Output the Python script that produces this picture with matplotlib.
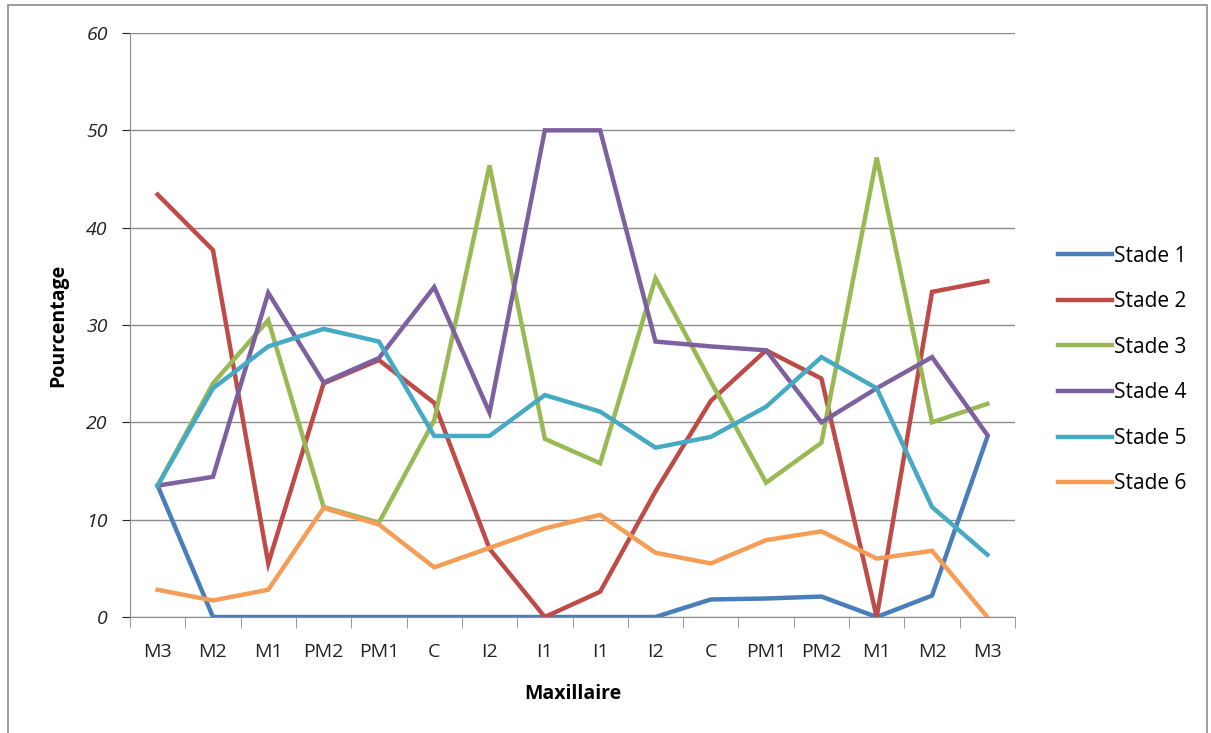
import matplotlib.pyplot as plt
from matplotlib.patches import Rectangle

# Pourcentage par stade, maxillaire
teeth = ["M3", "M2", "M1", "PM2", "PM1", "C", "I2", "I1",
         "I1", "I2", "C", "PM1", "PM2", "M1", "M2", "M3"]
stade1 = [13.5, 0, 0, 0, 0, 0, 0, 0, 0, 0, 1.8, 1.9, 2.1, 0, 2.2, 18.5]
stade2 = [43.4, 37.7, 5.5, 24.0, 26.4, 22.0, 7.0, 0, 2.6, 12.9, 22.2, 27.4, 24.5, 0, 33.4, 34.5]
stade3 = [13.5, 24.0, 30.5, 11.3, 9.7, 20.2, 46.4, 18.3, 15.8, 34.8, 24.2, 13.8, 17.9, 47.2, 20.0, 21.9]
stade4 = [13.5, 14.4, 33.3, 24.1, 26.6, 33.9, 21.0, 50, 50, 28.3, 27.8, 27.4, 20.0, 23.5, 26.7, 18.7]
stade5 = [13.5, 23.5, 27.8, 29.6, 28.3, 18.6, 18.6, 22.8, 21.1, 17.4, 18.5, 21.6, 26.7, 23.5, 11.3, 6.4]
stade6 = [2.8, 1.7, 2.8, 11.2, 9.5, 5.1, 7.1, 9.1, 10.5, 6.6, 5.5, 7.9, 8.8, 6.0, 6.8, 0]

series = [stade1, stade2, stade3, stade4, stade5, stade6]
names = ["Stade 1", "Stade 2", "Stade 3", "Stade 4", "Stade 5", "Stade 6"]
colors = ["#4A7EBB", "#BE4B48", "#98B954", "#7D60A0", "#46AAC5", "#F59D56"]

plt.rcParams['font.family'] = ['Open Sans', 'DejaVu Sans']

fig = plt.figure(figsize=(12.11, 7.33), dpi=100)
ax = fig.add_axes([130 / 1211, 1 - 617 / 733, 885 / 1211, 584 / 733])

x = list(range(len(teeth)))
for vals, name, c in zip(series, names, colors):
    ax.plot(x, vals, color=c, lw=3.2, label=name, solid_joinstyle='miter')

ax.set_xlim(-0.5, len(teeth) - 0.5)
ax.set_ylim(0, 60)
ax.set_yticks(range(0, 61, 10))
ax.set_yticklabels([str(v) for v in range(0, 61, 10)], fontstyle='italic', fontsize=14)
ax.yaxis.grid(True, color='#8c8c8c', lw=1)
ax.set_axisbelow(True)

ax.set_xticks(x)
ax.set_xticklabels(teeth, fontsize=14)
ax.tick_params(axis='x', which='major', length=0, pad=19)
ax.set_xticks([i - 0.5 for i in range(len(teeth) + 1)], minor=True)
ax.tick_params(axis='x', which='minor', length=8, color='#8c8c8c', direction='out')
ax.tick_params(axis='y', length=6, color='#8c8c8c', pad=10)
ax.tick_params(colors='#222222', which='major')

for s in ['top', 'right']:
    ax.spines[s].set_visible(False)
for s in ['left', 'bottom']:
    ax.spines[s].set_color('#8c8c8c')

ax.set_ylabel("Pourcentage", fontsize=14, fontweight='bold', labelpad=13)
ax.set_xlabel("Maxillaire", fontsize=14, fontweight='bold', labelpad=16)

ax.legend(loc='center left', bbox_to_anchor=(1.027, 0.423), frameon=False,
          fontsize=15, handlelength=2.6, labelspacing=1.18, handletextpad=0.1)

fig.patches.append(Rectangle((8 / 1211, -0.02), 1199 / 1211, 1.02 - 5 / 733,
                             transform=fig.transFigure, fill=False,
                             edgecolor='#8c8c8c', lw=1.2))

fig.savefig("out.png", dpi=100)
